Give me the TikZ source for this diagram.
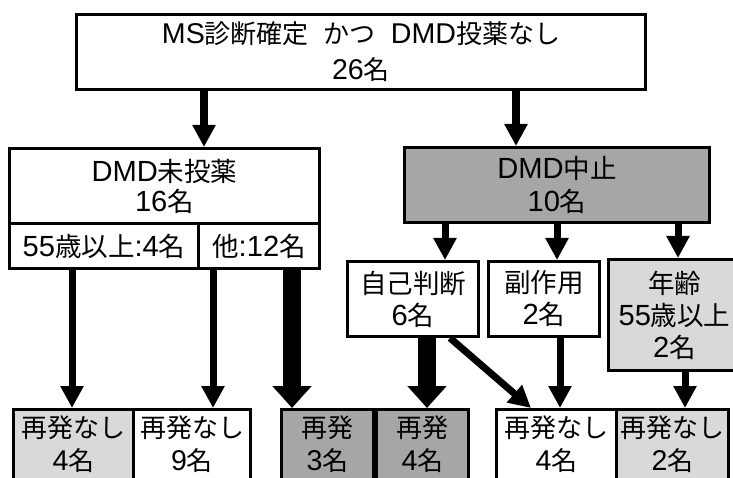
\documentclass[tikz,border=0pt]{standalone}
\usepackage{fontspec}
\setmainfont{Liberation Sans}[Scale=1.1]
\newfontfamily\jp{Noto Sans CJK JP}
\newcommand{\J}[1]{{\jp #1}}
\usetikzlibrary{arrows.meta}
\definecolor{darkg}{RGB}{166,166,166}
\definecolor{lightg}{RGB}{217,217,217}
\tikzset{
  box/.style={draw=black, line width=3pt, fill=white, align=center, inner sep=0pt, anchor=north west,
    font=\fontsize{26.5}{32}\selectfont},
  arr/.style={line width=7pt, -{Triangle[length=22pt,width=22pt]}},
  thick arr/.style={line width=18pt, -{Triangle[length=22pt,width=38pt]}},
  top arr/.style={line width=8pt, -{Triangle[length=22pt,width=22pt]}},
  bot/.style={box, minimum height=70pt, font=\fontsize{26}{33}\selectfont},
}
\begin{document}
\begin{tikzpicture}[x=1pt,y=-1pt]
\useasboundingbox (0,0) rectangle (733,478);
\clip (0,0) rectangle (733,478);
\fill[white] (0,0) rectangle (733,478);
% boxes
\node[box, minimum width=569pt, minimum height=75pt, font=\fontsize{26}{36}\selectfont] (top) at (75,13)
  {MS\J{診断確定}\hspace{15pt}\J{かつ}\hspace{15pt}DMD\J{投薬なし}\\26\J{名}};
\node[box, minimum width=310pt, minimum height=75pt, font=\fontsize{26.5}{30}\selectfont] (untr) at (8,147) {DMD\J{未投薬}\\16\J{名}};
\node[box, minimum width=189pt, minimum height=45pt] (age4) at (8,222) {55\J{歳以上}:4\J{名}};
\node[box, minimum width=121pt, minimum height=45pt] (oth) at (197,222) {\J{他}:12\J{名}};
\node[box, fill=darkg, minimum width=305pt, minimum height=75pt, font=\fontsize{26.5}{33}\selectfont] (stop) at (403,146) {DMD\J{中止}\\10\J{名}};
\node[box, minimum width=131pt, minimum height=75pt] (self) at (346,260) {\J{自己判断}\\6\J{名}};
\node[box, minimum width=111pt, minimum height=75pt] (side) at (487,260) {\J{副作用}\\2\J{名}};
\node[box, fill=lightg, minimum width=132pt, minimum height=111pt] (age) at (607,258) {\J{年齢}\\55\J{歳以上}\\2\J{名}};
% bottom boxes
\node[bot, fill=lightg, minimum width=120pt] (b1) at (12,408) {\J{再発なし}\\4\J{名}};
\node[bot, minimum width=117pt] (b2) at (132,408) {\J{再発なし}\\9\J{名}};
\node[bot, fill=darkg, minimum width=92pt] (b3) at (280,408) {\J{再発}\\3\J{名}};
\node[bot, fill=darkg, minimum width=92pt] (b4) at (375,408) {\J{再発}\\4\J{名}};
\node[bot, minimum width=120pt] (b5) at (495,408) {\J{再発なし}\\4\J{名}};
\node[bot, fill=lightg, minimum width=112pt] (b6) at (615,408) {\J{再発なし}\\2\J{名}};
% arrows
\draw[top arr] (204,0 |- top.south) -- (204,0 |- untr.north);
\draw[top arr] (516,0 |- top.south) -- (516,0 |- stop.north);
\draw[arr] (72,0 |- age4.south) -- (72,0 |- b1.north);
\draw[arr] (213,0 |- oth.south) -- (213,0 |- b2.north);
\draw[thick arr] (292,0 |- oth.south) -- (292,0 |- b3.north);
\draw[arr] (445,0 |- stop.south) -- (445,0 |- self.north);
\draw[arr] (557,0 |- stop.south) -- (557,0 |- side.north);
\draw[arr] (678,0 |- stop.south) -- (678,0 |- age.north);
\draw[thick arr] (427,0 |- self.south) -- (427,0 |- b4.north);
\draw[arr] (450,0 |- self.south) -- (531,0 |- b5.north);
\draw[arr] (560,0 |- side.south) -- (560,0 |- b5.north);
\draw[arr] (685,0 |- age.south) -- (685,0 |- b6.north);
\end{tikzpicture}
\end{document}
